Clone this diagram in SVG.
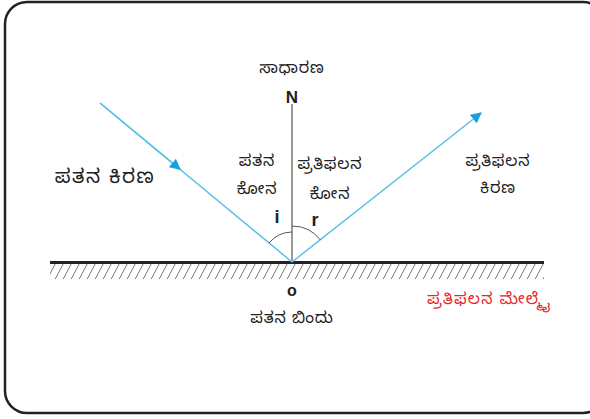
<svg xmlns="http://www.w3.org/2000/svg" width="590" height="419" viewBox="0 0 590 419">
<style>
.t{font-family:"Noto Sans Kannada","Noto Sans","Liberation Sans",sans-serif;fill:#222;text-anchor:middle}
.s{font-size:16px;letter-spacing:0.8px}
.m{font-size:20px;letter-spacing:1.5px}
.red{fill:#e8262b;letter-spacing:1.2px}
.lat{font-family:"Liberation Sans",sans-serif;fill:#222;text-anchor:middle;font-weight:bold}
.ray{stroke:#5bc0eb;stroke-width:1.5;fill:none}
.arc{stroke:#555;stroke-width:1;fill:none}
</style>
<defs>
<marker id="ah" viewBox="0 0 10 10" refX="9" refY="5" markerWidth="11" markerHeight="11" markerUnits="userSpaceOnUse" orient="auto">
<path d="M0,0 L10,5 L0,10 z" fill="#1a9ee0"/>
</marker>
<pattern id="hatch" width="8" height="15" patternUnits="userSpaceOnUse">
<line x1="-4" y1="15" x2="4" y2="0" stroke="#777" stroke-width="1"/>
<line x1="4" y1="15" x2="12" y2="0" stroke="#777" stroke-width="1"/>
</pattern>
</defs>
<rect x="0" y="0" width="590" height="419" fill="#fff"/>
<rect x="5" y="2" width="600" height="411" rx="22" fill="#fff" stroke="#222" stroke-width="2.5"/>

<g id="surface">
<rect x="50" y="264" width="494" height="15" fill="url(#hatch)"/>
<line x1="50" y1="262.5" x2="544" y2="262.5" stroke="#222" stroke-width="3"/>
</g>

<g id="connectors">
<line id="normal" x1="292" y1="104" x2="292" y2="262" stroke="#777" stroke-width="1.5"/>
<line class="ray" x1="100" y1="103" x2="292" y2="262"/>
<line class="ray" x1="100" y1="103" x2="180" y2="169.3" marker-end="url(#ah)"/>
<line class="ray" x1="292" y1="262" x2="481" y2="113" marker-end="url(#ah)"/>
<path class="arc" d="M269,243 A30,30 0 0 1 292,232"/>
<path class="arc" d="M292,226 A36,36 0 0 1 320.5,240"/>
</g>

<g id="labels">
<text class="t s" x="292" y="73">ಸಾಧಾರಣ</text>
<text class="lat" x="292" y="103" style="font-size:17px">N</text>
<text class="t m" x="105" y="183">ಪತನ  ಕಿರಣ</text>
<text class="t s" x="257" y="166">ಪತನ</text>
<text class="t s" x="257" y="194">ಕೋನ</text>
<text class="lat" x="277" y="223" style="font-size:18px">i</text>
<text class="t s" x="330" y="169">ಪ್ರತಿಫಲನ</text>
<text class="t s" x="330" y="199">ಕೋನ</text>
<text class="lat" x="315" y="226" style="font-size:18px">r</text>
<text class="t s" x="498" y="166">ಪ್ರತಿಫಲನ</text>
<text class="t s" x="498" y="193">ಕಿರಣ</text>
<text class="lat" x="292" y="296" style="font-size:16px">o</text>
<text class="t s" x="292" y="323">ಪತನ  ಬಿಂದು</text>
<text class="t s red" x="489" y="304">ಪ್ರತಿಫಲನ  ಮೇಲ್ಮೈ</text>
</g>
</svg>
